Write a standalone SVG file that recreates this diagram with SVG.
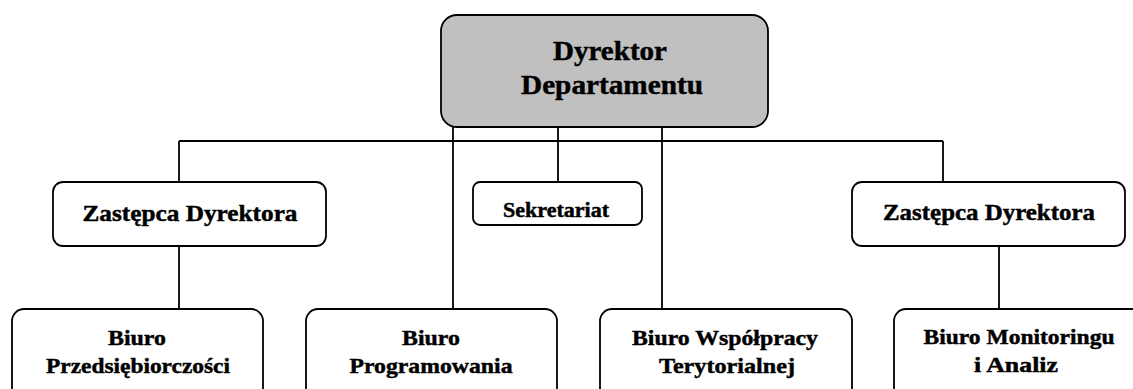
<svg xmlns="http://www.w3.org/2000/svg" width="1133" height="389" viewBox="0 0 1133 389">
<style>
.box{fill:#fff;stroke:#000;stroke-width:1.8}
.top{fill:#c0c0c0;stroke:#000;stroke-width:1.8}
.ln{fill:none;stroke:#000;stroke-width:1.8}
.lbl{font-family:'Liberation Serif','Times New Roman',Times,serif;font-weight:700;fill:#000;stroke:#000;stroke-width:0.45;text-anchor:middle}
.t1{font-size:27px}
.t2{font-size:23px}
.t3{font-size:20px}
.t4{font-size:22px}
</style>
<rect width="1133" height="389" fill="#fff"/>
<g id="connectors">
<path class="ln" d="M453 127V309M558 127V182M662 127V309M179 141H943M179 141V182M943 141V182M179 246V309M999 246V309"/>
</g>
<g id="dyrektor">
<rect class="top" x="441" y="15" width="327" height="112" rx="16"/>
<text class="lbl t1" x="610" y="60" textLength="114" lengthAdjust="spacingAndGlyphs">Dyrektor</text>
<text class="lbl t1" x="612" y="94" textLength="182" lengthAdjust="spacingAndGlyphs">Departamentu</text>
</g>
<g id="zastepca-lewy">
<rect class="box" x="53" y="182" width="273" height="64" rx="10"/>
<text class="lbl t2" x="190" y="221" textLength="215" lengthAdjust="spacingAndGlyphs">Zastępca Dyrektora</text>
</g>
<g id="sekretariat">
<rect class="box" x="473" y="182" width="169" height="43" rx="7"/>
<text class="lbl t3" x="556" y="217" textLength="106" lengthAdjust="spacingAndGlyphs">Sekretariat</text>
</g>
<g id="zastepca-prawy">
<rect class="box" x="852" y="182" width="273" height="64" rx="10"/>
<text class="lbl t2" x="989" y="220" textLength="212" lengthAdjust="spacingAndGlyphs">Zastępca Dyrektora</text>
</g>
<g id="biuro-przedsiebiorczosci">
<rect class="box" x="12" y="309" width="251" height="100" rx="12"/>
<text class="lbl t4" x="137" y="345" textLength="58" lengthAdjust="spacingAndGlyphs">Biuro</text>
<text class="lbl t4" x="138" y="373" textLength="184" lengthAdjust="spacingAndGlyphs">Przedsiębiorczości</text>
</g>
<g id="biuro-programowania">
<rect class="box" x="306" y="309" width="251" height="100" rx="12"/>
<text class="lbl t4" x="431" y="345" textLength="58" lengthAdjust="spacingAndGlyphs">Biuro</text>
<text class="lbl t4" x="431" y="373" textLength="163" lengthAdjust="spacingAndGlyphs">Programowania</text>
</g>
<g id="biuro-wspolpracy">
<rect class="box" x="600" y="309" width="252" height="100" rx="12"/>
<text class="lbl t4" x="725" y="345" textLength="186" lengthAdjust="spacingAndGlyphs">Biuro Współpracy</text>
<text class="lbl t4" x="727" y="373" textLength="136" lengthAdjust="spacingAndGlyphs">Terytorialnej</text>
</g>
<g id="biuro-monitoringu">
<rect class="box" x="894" y="309" width="250" height="100" rx="12"/>
<text class="lbl t4" x="1019" y="344" textLength="191" lengthAdjust="spacingAndGlyphs">Biuro Monitoringu</text>
<text class="lbl t4" x="1016" y="372" textLength="84" lengthAdjust="spacingAndGlyphs">i Analiz</text>
</g>
</svg>
